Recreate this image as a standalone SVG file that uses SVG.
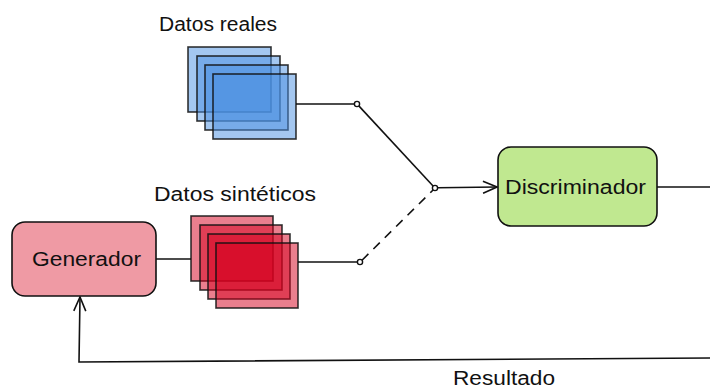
<svg xmlns="http://www.w3.org/2000/svg" width="710" height="388" viewBox="0 0 710 388">
  <defs>
    <style>
      .lbl { font-family: "Liberation Sans", Arial, sans-serif; font-size: 20px; fill: #111; }
      .line { fill: none; stroke: #111; stroke-width: 1.6; }
      .dash { stroke-dasharray: 9 7; }
      .dot { fill: #fff; stroke: #111; stroke-width: 1.4; }
      .box { stroke: #111; stroke-width: 1.6; }
      .real { fill: #4a90e2; fill-opacity: 0.5; stroke: #111; stroke-opacity: 0.85; stroke-width: 1.6; }
      .synth { fill: #d5001e; fill-opacity: 0.5; stroke: #111; stroke-opacity: 0.85; stroke-width: 1.6; }
    </style>
    <marker id="open-arrow" viewBox="0 0 16 14" refX="15" refY="7" markerWidth="16" markerHeight="14" markerUnits="userSpaceOnUse" orient="auto">
      <path d="M1,1 L15,7 L1,13" fill="none" stroke="#111" stroke-width="1.6"/>
    </marker>
  </defs>

  <!-- connectors -->
  <g id="connectors">
    <line class="line" x1="156" y1="259" x2="191" y2="259"/>
    <line class="line" x1="296" y1="104" x2="354.5" y2="104"/>
    <line class="line" x1="358.8" y1="105.9" x2="433.3" y2="186.2"/>
    <line class="line" x1="298" y1="262" x2="357.5" y2="262"/>
    <line class="line dash" x1="362" y1="260.2" x2="433.3" y2="189.8"/>
    <line class="line" x1="437.5" y1="187.8" x2="497" y2="187" marker-end="url(#open-arrow)"/>
    <line class="line" x1="657" y1="187" x2="712" y2="187"/>
    <polyline class="line" points="712,358 79,362 80,297" marker-end="url(#open-arrow)"/>
    <circle class="dot" cx="357" cy="104" r="2.6"/>
    <circle class="dot" cx="360" cy="262" r="2.6"/>
    <circle class="dot" cx="435" cy="188" r="2.6"/>
  </g>

  <!-- stack of real samples -->
  <g id="datos-reales">
    <rect class="real" x="188" y="47" width="83" height="65"/>
    <rect class="real" x="197" y="56" width="83" height="65"/>
    <rect class="real" x="205" y="65" width="83" height="65"/>
    <rect class="real" x="213" y="74" width="83" height="65"/>
    <text class="lbl" x="159" y="31" textLength="118" lengthAdjust="spacingAndGlyphs">Datos reales</text>
  </g>

  <!-- stack of synthetic samples -->
  <g id="datos-sinteticos">
    <rect class="synth" x="191" y="216" width="82" height="65"/>
    <rect class="synth" x="200" y="225" width="82" height="65"/>
    <rect class="synth" x="208" y="234" width="82" height="65"/>
    <rect class="synth" x="216" y="243" width="82" height="65"/>
    <text class="lbl" x="154" y="201" textLength="162" lengthAdjust="spacingAndGlyphs">Datos sintéticos</text>
  </g>

  <g id="generador">
    <rect class="box" x="12" y="222" width="144" height="74" rx="13" fill="#ef9aa4"/>
    <text class="lbl" x="32" y="266" textLength="109" lengthAdjust="spacingAndGlyphs">Generador</text>
  </g>

  <g id="discriminador">
    <rect class="box" x="498" y="147" width="159" height="79" rx="13" fill="#c0e890"/>
    <text class="lbl" x="505" y="194" textLength="141" lengthAdjust="spacingAndGlyphs">Discriminador</text>
  </g>

  <g id="resultado">
    <text class="lbl" x="453" y="385" textLength="102" lengthAdjust="spacingAndGlyphs">Resultado</text>
  </g>
</svg>
